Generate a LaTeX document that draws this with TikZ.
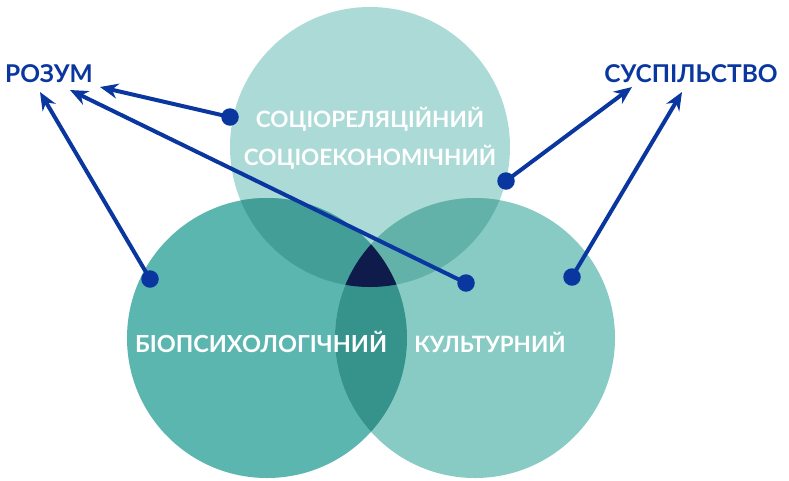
\documentclass[tikz,border=0pt]{standalone}
\usepackage{fontspec}
\setmainfont{Lato}
\usetikzlibrary{arrows.meta}
\definecolor{ctop}{HTML}{ACDAD7}
\definecolor{cleft}{HTML}{5CB6B0}
\definecolor{cright}{HTML}{88CBC5}
\definecolor{clt}{HTML}{429E97}
\definecolor{crt}{HTML}{62B2AA}
\definecolor{clr}{HTML}{36938B}
\definecolor{ccen}{HTML}{0E1B4B}
\definecolor{cblue}{HTML}{0A379F}
\begin{document}
\begin{tikzpicture}[x=1pt,y=-1pt,
  ctext/.style={text=white,font=\bfseries\fontsize{22.5}{24}\selectfont,anchor=base,inner sep=0pt},
  lab/.style={text=cblue,font=\bfseries\fontsize{24.5}{26}\selectfont,anchor=base,inner sep=0pt},
  dot/.style={circle,fill=cblue,minimum size=17.5pt,inner sep=0pt},
  arr/.style={draw=cblue,line width=4pt,-{Stealth[length=18pt,width=15pt]}}]
\useasboundingbox (0,0) rectangle (789,480);
\coordinate (T) at (370,147);
\coordinate (L) at (267,338);
\coordinate (R) at (475,338);
\fill[ctop] (T) circle[radius=140pt];
\fill[cleft] (L) circle[radius=140pt];
\fill[cright] (R) circle[radius=140pt];
\begin{scope}\clip (T) circle[radius=140pt]; \fill[clt] (L) circle[radius=140pt];\end{scope}
\begin{scope}\clip (T) circle[radius=140pt]; \fill[crt] (R) circle[radius=140pt];\end{scope}
\begin{scope}\clip (L) circle[radius=140pt]; \fill[clr] (R) circle[radius=140pt];\end{scope}
\begin{scope}\clip (T) circle[radius=140pt]; \clip (L) circle[radius=140pt]; \fill[ccen] (R) circle[radius=140pt];\end{scope}
\node[ctext] (t1) at (370,127) {СОЦІОРЕЛЯЦІЙНИЙ};
\node[ctext] (t2) at (370,165) {СОЦІОЕКОНОМІЧНИЙ};
\node[ctext,font=\bfseries\fontsize{23.5}{25}\selectfont] (bio) at (261,352) {БІОПСИХОЛОГІЧНИЙ};
\node[ctext] (kul) at (490,352) {КУЛЬТУРНИЙ};
\node[lab] (rozum) at (49,82) {РОЗУМ};
\node[lab] (susp) at (691,82) {СУСПІЛЬСТВО};
\coordinate (r1) at (100,87);
\coordinate (r2) at (70,90);
\coordinate (r3) at (40,92);
\coordinate (s1) at (632,87);
\coordinate (s2) at (682,92);
\node[dot] (d1) at (230,117) {};
\node[dot] (d2) at (466,283) {};
\node[dot] (d3) at (150,279) {};
\node[dot] (d4) at (506,181) {};
\node[dot] (d5) at (572,277) {};
\draw[arr] (d1.center) -- (r1);
\draw[arr] (d2.center) -- (r2);
\draw[arr] (d3.center) -- (r3);
\draw[arr] (d4.center) -- (s1);
\draw[arr] (d5.center) -- (s2);
\end{tikzpicture}
\end{document}
